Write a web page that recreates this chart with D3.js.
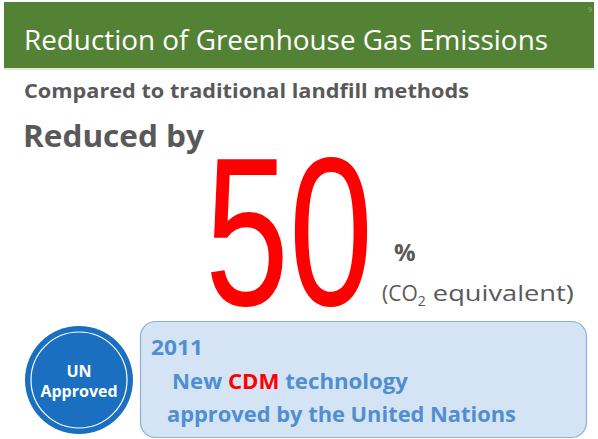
<!DOCTYPE html>
<html><head><meta charset="utf-8">
<script src="https://cdn.jsdelivr.net/npm/d3@7"></script>
<style>body{margin:0;background:#fff}svg{display:block}</style>
</head><body>
<svg id="c" width="598" height="439"></svg>
<script>
const title = "Reduction of Greenhouse Gas Emissions";
const subtitle = "Compared to traditional landfill methods";
const lead = "Reduced by";
const reduction = [50];
const unitLabel = "%";
const noteParts = ["(CO", "2", " equivalent)"];
const badge = ["UN", "Approved"];
const year = ["2011"];
const line1 = ["New ", "CDM", " technology"];
const line2 = "approved by the United Nations";
const pageNo = "9";

const svg = d3.select("#c");
const font = "'Open Sans', 'Noto Sans', sans-serif";
const gray = "#595959";

// header
svg.append("rect").attr("x",4).attr("y",2).attr("width",590).attr("height",66).attr("fill","#548235");
svg.append("rect").attr("x",4).attr("y",68).attr("width",590).attr("height",2).attr("fill","#e2ecd9");
svg.append("text").attr("x",24).attr("y",50).attr("fill","#fff").attr("font-family",font)
  .attr("font-size",27).attr("textLength",524).attr("lengthAdjust","spacingAndGlyphs").text(title);
svg.append("text").attr("x",592).attr("y",12).attr("fill","#9bb98a").attr("font-family",font)
  .attr("font-size",7).attr("text-anchor","end").text(pageNo);

svg.append("text").attr("x",24).attr("y",98).attr("fill",gray).attr("font-family",font)
  .attr("font-weight","bold").attr("font-size",19).attr("textLength",445).attr("lengthAdjust","spacingAndGlyphs").text(subtitle);
svg.append("text").attr("x",23).attr("y",147).attr("fill",gray).attr("font-family",font)
  .attr("font-weight","bold").attr("font-size",31).attr("textLength",181).attr("lengthAdjust","spacingAndGlyphs").text(lead);

// big number (horizontally condensed)
svg.selectAll("text.big").data(reduction).join("text").attr("class","big")
  .attr("transform","translate(205,305) scale(0.712,1)").attr("x",0).attr("y",0).attr("fill","#ff0000")
  .attr("font-family","'Liberation Sans', Arial, sans-serif").attr("font-size",212)
  .text(d => d3.format("d")(d));

svg.append("text").attr("x",394).attr("y",261).attr("fill",gray).attr("font-family",font)
  .attr("font-weight","bold").attr("font-size",24).text(unitLabel);
const note = svg.append("text").attr("x",382).attr("y",301).attr("fill",gray).attr("font-family",font).attr("font-size",21);
note.append("tspan").text(noteParts[0]);
note.append("tspan").attr("font-size",14).attr("dy",5).text(noteParts[1]);
note.append("tspan").attr("dy",-5).attr("textLength",148).attr("lengthAdjust","spacingAndGlyphs").text(noteParts[2]);

// badge
const cx=79, cy=380;
svg.append("circle").attr("cx",cx).attr("cy",cy).attr("r",54).attr("fill","#1a6fc0");
svg.append("circle").attr("cx",cx).attr("cy",cy).attr("r",48).attr("fill","none").attr("stroke","#fff").attr("stroke-width",1.2);
svg.selectAll("text.badge").data(badge).join("text").attr("class","badge")
  .attr("x",cx).attr("y",(d,i)=>377+i*20).attr("text-anchor","middle").attr("fill","#fff")
  .attr("font-family",font).attr("font-weight","bold").attr("font-size",16).text(d=>d);

// box
svg.append("rect").attr("x",140.5).attr("y",321.5).attr("width",446).attr("height",116).attr("rx",15)
  .attr("fill","#d5e4f4").attr("stroke","#8fb0d3").attr("stroke-width",1.2);
const blue = "#4f8fd0";
svg.selectAll("text.yr").data(year).join("text").attr("class","yr").attr("x",151).attr("y",355).attr("fill",blue)
  .attr("font-family",font).attr("font-weight","bold").attr("font-size",21).attr("textLength",52).attr("lengthAdjust","spacingAndGlyphs").text(d=>d);
const l1 = svg.append("text").attr("x",172).attr("y",389).attr("fill",blue).attr("font-family",font)
  .attr("font-weight","bold").attr("font-size",21).attr("textLength",236).attr("lengthAdjust","spacingAndGlyphs");
line1.forEach((s,i)=>l1.append("tspan").attr("fill", i===1?"#ff0000":blue).text(s));
svg.append("text").attr("x",167).attr("y",422).attr("fill",blue).attr("font-family",font)
  .attr("font-weight","bold").attr("font-size",21).attr("textLength",349).attr("lengthAdjust","spacingAndGlyphs").text(line2);
</script>
</body></html>
